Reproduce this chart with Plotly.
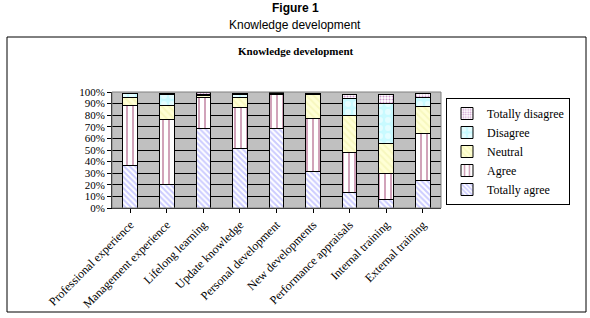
import plotly.graph_objects as go

categories = ["Professional experience", "Management experience", "Lifelong learning",
              "Update knowledge", "Personal development", "New developments",
              "Performance appraisals", "Internal training", "External training"]
totally_agree = [37, 20.5, 68.5, 51.5, 68.5, 31.5, 13, 7.5, 24]
agree = [51.5, 55.5, 27, 35.5, 29.5, 46, 35, 22.5, 40]
neutral = [7, 12, 1.5, 8, 0, 20, 32, 25.5, 23.5]
disagree = [3, 9.7, 1, 2.5, 0.5, 1, 14.5, 35, 8]
totally_disagree = [0, 1.3, 1.2, 1, 1.2, 0.5, 3.5, 7, 3]
y_ticks = [0, 10, 20, 30, 40, 50, 60, 70, 80, 90, 100]

series = [
    ("Totally agree", totally_agree, dict(shape="\\", fgcolor="#9999FF", bgcolor="#FFFFFF", size=4, solidity=0.5)),
    ("Agree", agree, dict(shape="|", fgcolor="#993366", bgcolor="#FFFFFF", size=6, solidity=0.3)),
    ("Neutral", neutral, dict(shape="\\", fgcolor="#F0F0A8", bgcolor="#FFFFD5", size=5, solidity=0.4)),
    ("Disagree", disagree, dict(shape=".", fgcolor="#FFFFFF", bgcolor="#C8FAFF", size=8, solidity=0.45)),
    ("Totally disagree", totally_disagree, dict(shape=".", fgcolor="#993399", bgcolor="#FFFFFF", size=3, solidity=0.35)),
]

fig = go.Figure()
for name, vals, pat in series:
    fig.add_trace(go.Bar(
        x=categories, y=vals, name=name,
        marker=dict(color=pat["bgcolor"], pattern=dict(shape=pat["shape"], fgcolor=pat["fgcolor"],
                                                        bgcolor=pat["bgcolor"], size=pat["size"],
                                                        solidity=pat["solidity"], fillmode="overlay"),
                    line=dict(color="black", width=1)),
        hoverinfo="skip",
    ))

W, H = 590, 318
L, R, T, B = 112, 590 - 441, 92, 318 - 208
pw = W - L - R
ph = H - T - B

def px_x(px):
    return (px - L) / pw

def px_y(py):
    return (H - B - py) / ph

times = "Liberation Serif, Times New Roman, serif"
arial = "Liberation Sans, Arial, sans-serif"

fig.update_layout(
    width=W, height=H,
    margin=dict(l=L, r=R, t=T, b=B, autoexpand=False),
    barmode="stack", bargap=0.6,
    paper_bgcolor="white", plot_bgcolor="#C0C0C0",
    showlegend=True,
    legend=dict(x=px_x(446), y=px_y(98), xanchor="left", yanchor="top",
                bordercolor="black", borderwidth=1, bgcolor="white",
                font=dict(family=times, size=12, color="black"),
                traceorder="reversed", itemwidth=30, tracegroupgap=0),
    xaxis=dict(tickangle=-45, tickfont=dict(family=times, size=12, color="black"),
               showline=True, linecolor="black", linewidth=1,
               ticks="outside", ticklen=4, tickcolor="black",
               showgrid=False, fixedrange=True),
    yaxis=dict(range=[0, 100], tickvals=y_ticks, ticktext=[f"{v}%" for v in y_ticks],
               tickfont=dict(family=times, size=11, color="black"),
               showline=True, linecolor="black", linewidth=1,
               ticks="outside", ticklen=4, tickcolor="black",
               showgrid=True, gridcolor="black", gridwidth=1, zeroline=False,
               fixedrange=True),
    shapes=[
        dict(type="rect", xref="paper", yref="paper",
             x0=px_x(7), x1=px_x(586), y0=px_y(312), y1=px_y(37),
             line=dict(color="black", width=1), fillcolor="rgba(0,0,0,0)", layer="below"),
        dict(type="rect", xref="paper", yref="paper", x0=0, x1=1, y0=0, y1=1,
             line=dict(color="#808080", width=1), fillcolor="rgba(0,0,0,0)"),
    ],
    annotations=[
        dict(text="<b>Figure 1</b>", xref="paper", yref="paper", x=px_x(295), y=px_y(8),
             xanchor="center", yanchor="middle", showarrow=False,
             font=dict(family=arial, size=12, color="black")),
        dict(text="Knowledge development", xref="paper", yref="paper", x=px_x(295), y=px_y(25),
             xanchor="center", yanchor="middle", showarrow=False,
             font=dict(family=arial, size=12, color="black")),
        dict(text="<b>Knowledge development</b>", xref="paper", yref="paper", x=px_x(296), y=px_y(51),
             xanchor="center", yanchor="middle", showarrow=False,
             font=dict(family=times, size=11, color="black")),
    ],
)

fig.write_html("out.html", config={"displayModeBar": False},
               post_script="document.body.style.margin='0';")
